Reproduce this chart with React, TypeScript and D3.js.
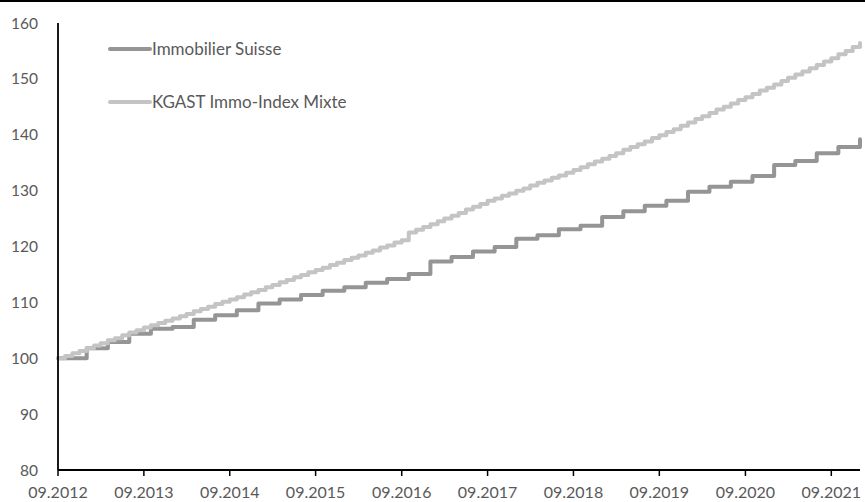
import React from "react";
import * as d3 from "d3";

// ---- data ----
const immoLabel = "Immobilier Suisse";
const kgastLabel = "KGAST Immo-Index Mixte";

// Quarterly points (month "MM.YYYY") for Immobilier Suisse
const immoDates = [
  "09.2012", "01.2013", "04.2013", "07.2013", "10.2013",
  "01.2014", "04.2014", "07.2014", "10.2014",
  "01.2015", "04.2015", "07.2015", "10.2015",
  "01.2016", "04.2016", "07.2016", "10.2016",
  "01.2017", "04.2017", "07.2017", "10.2017",
  "01.2018", "04.2018", "07.2018", "10.2018",
  "01.2019", "04.2019", "07.2019", "10.2019",
  "01.2020", "04.2020", "07.2020", "10.2020",
  "01.2021", "04.2021", "07.2021", "10.2021",
  "01.2022",
];
const immoValues = [
  100.0, 101.8, 102.9, 104.4, 105.3,
  105.6, 106.9, 107.7, 108.6,
  109.8, 110.5, 111.3, 112.1,
  112.7, 113.5, 114.2, 115.1,
  117.3, 118.1, 119.1, 119.9,
  121.4, 122.0, 123.1, 123.7,
  125.3, 126.3, 127.3, 128.2,
  129.8, 130.7, 131.6, 132.6,
  134.6, 135.3, 136.7, 137.8,
  139.2,
];

// Monthly values for KGAST Immo-Index Mixte, from 09.2012 to 01.2022
const kgastStart = "09.2012";
const kgastValues = [
  100.0, 100.4, 100.9, 101.3, 101.8, 102.3, 102.7, 103.2, 103.6, 104.1, 104.6, 105.0, 105.5,
  105.9, 106.3, 106.7, 107.1, 107.5, 107.9, 108.4, 108.8, 109.2, 109.7, 110.1, 110.5,
  110.9, 111.4, 111.8, 112.2, 112.7, 113.1, 113.6, 114.0, 114.5, 114.9, 115.4, 115.8,
  116.2, 116.7, 117.1, 117.6, 118.0, 118.4, 118.9, 119.3, 119.8, 120.2, 120.7, 121.1,
  122.5, 123.0, 123.5, 124.0, 124.5, 125.0, 125.5, 126.0, 126.6, 127.1, 127.6, 128.2,
  128.6, 129.1, 129.5, 130.0, 130.4, 130.9, 131.4, 131.8, 132.3, 132.7, 133.2, 133.7,
  134.2, 134.7, 135.2, 135.7, 136.2, 136.7, 137.3, 137.8, 138.3, 138.8, 139.4, 139.9,
  140.5, 141.0, 141.6, 142.2, 142.8, 143.3, 143.9, 144.5, 145.0, 145.6, 146.2, 146.7,
  147.3, 147.9, 148.4, 149.0, 149.6, 150.2, 150.8, 151.3, 151.9, 152.5, 153.1, 153.7,
  154.4, 155.0, 155.7, 156.4,
];

const xTickLabels = [
  "09.2012", "09.2013", "09.2014", "09.2015", "09.2016",
  "09.2017", "09.2018", "09.2019", "09.2020", "09.2021",
];
const yTicks = [80, 90, 100, 110, 120, 130, 140, 150, 160];
const xDomain = ["09.2012", "01.2022"];

// ---- helpers ----
const parseMonth = d3.timeParse("%m.%Y");

const W = 865;
const H = 502;
const FONT = "Lato, 'Open Sans', sans-serif";
const TEXT = "#595959";
const DARK = "#959595";
const LIGHT = "#c4c4c4";

export default function App() {
  const x = d3
    .scaleTime()
    .domain(xDomain.map((s) => parseMonth(s) as Date))
    .range([58, 860]);
  const y = d3.scaleLinear().domain([80, 160]).range([470, 23]);

  const immo = immoDates.map((s, i) => ({ d: parseMonth(s) as Date, v: immoValues[i] }));
  const start = parseMonth(kgastStart) as Date;
  const kgast = kgastValues.map((v, i) => ({ d: d3.timeMonth.offset(start, i), v }));

  const line = d3
    .line<{ d: Date; v: number }>()
    .x((p) => x(p.d))
    .y((p) => y(p.v))
    .curve(d3.curveStepAfter);

  const xTicks = xTickLabels.map((s) => parseMonth(s) as Date);

  return (
    <svg
      width={W}
      height={H}
      style={{ position: "absolute", left: 0, top: 0, background: "#fff" }}
    >
      <rect x={0} y={0} width={W} height={H} fill="#fff" />
      <rect x={0} y={0} width={W} height={2} fill="#000" />

      {/* y labels */}
      {yTicks.map((t) => (
        <text
          key={t}
          x={38}
          y={y(t)}
          dy="0.36em"
          textAnchor="end"
          fontFamily={FONT}
          fontSize={15.5}
          fill={TEXT}
        >
          {t}
        </text>
      ))}

      {/* x labels + ticks */}
      {xTicks.map((d, i) => (
        <g key={i}>
          <line x1={x(d)} x2={x(d)} y1={470} y2={476} stroke="#000" strokeWidth={1.5} />
          <text
            x={x(d)}
            y={498}
            textAnchor="middle"
            fontFamily={FONT}
            fontSize={16}
            fill={TEXT}
          >
            {xTickLabels[i]}
          </text>
        </g>
      ))}

      {/* series */}
      <path
        d={line(immo) || ""}
        fill="none"
        stroke={DARK}
        strokeWidth={4}
        strokeLinejoin="round"
        strokeLinecap="round"
      />
      <path
        d={line(kgast) || ""}
        fill="none"
        stroke={LIGHT}
        strokeWidth={4}
        strokeLinejoin="round"
        strokeLinecap="round"
      />

      {/* axes */}
      <line x1={58} x2={58} y1={23} y2={470} stroke="#000" strokeWidth={1.8} />
      <line x1={58} x2={860} y1={470} y2={470} stroke="#000" strokeWidth={1.8} />

      {/* legend */}
      <line x1={110} x2={150} y1={49} y2={49} stroke={DARK} strokeWidth={4} strokeLinecap="round" />
      <text x={152} y={49} dy="0.36em" fontFamily={FONT} fontSize={17} fill={TEXT}>
        {immoLabel}
      </text>
      <line x1={110} x2={150} y1={102} y2={102} stroke={LIGHT} strokeWidth={4} strokeLinecap="round" />
      <text x={152} y={102} dy="0.36em" fontFamily={FONT} fontSize={17} fill={TEXT}>
        {kgastLabel}
      </text>
    </svg>
  );
}
